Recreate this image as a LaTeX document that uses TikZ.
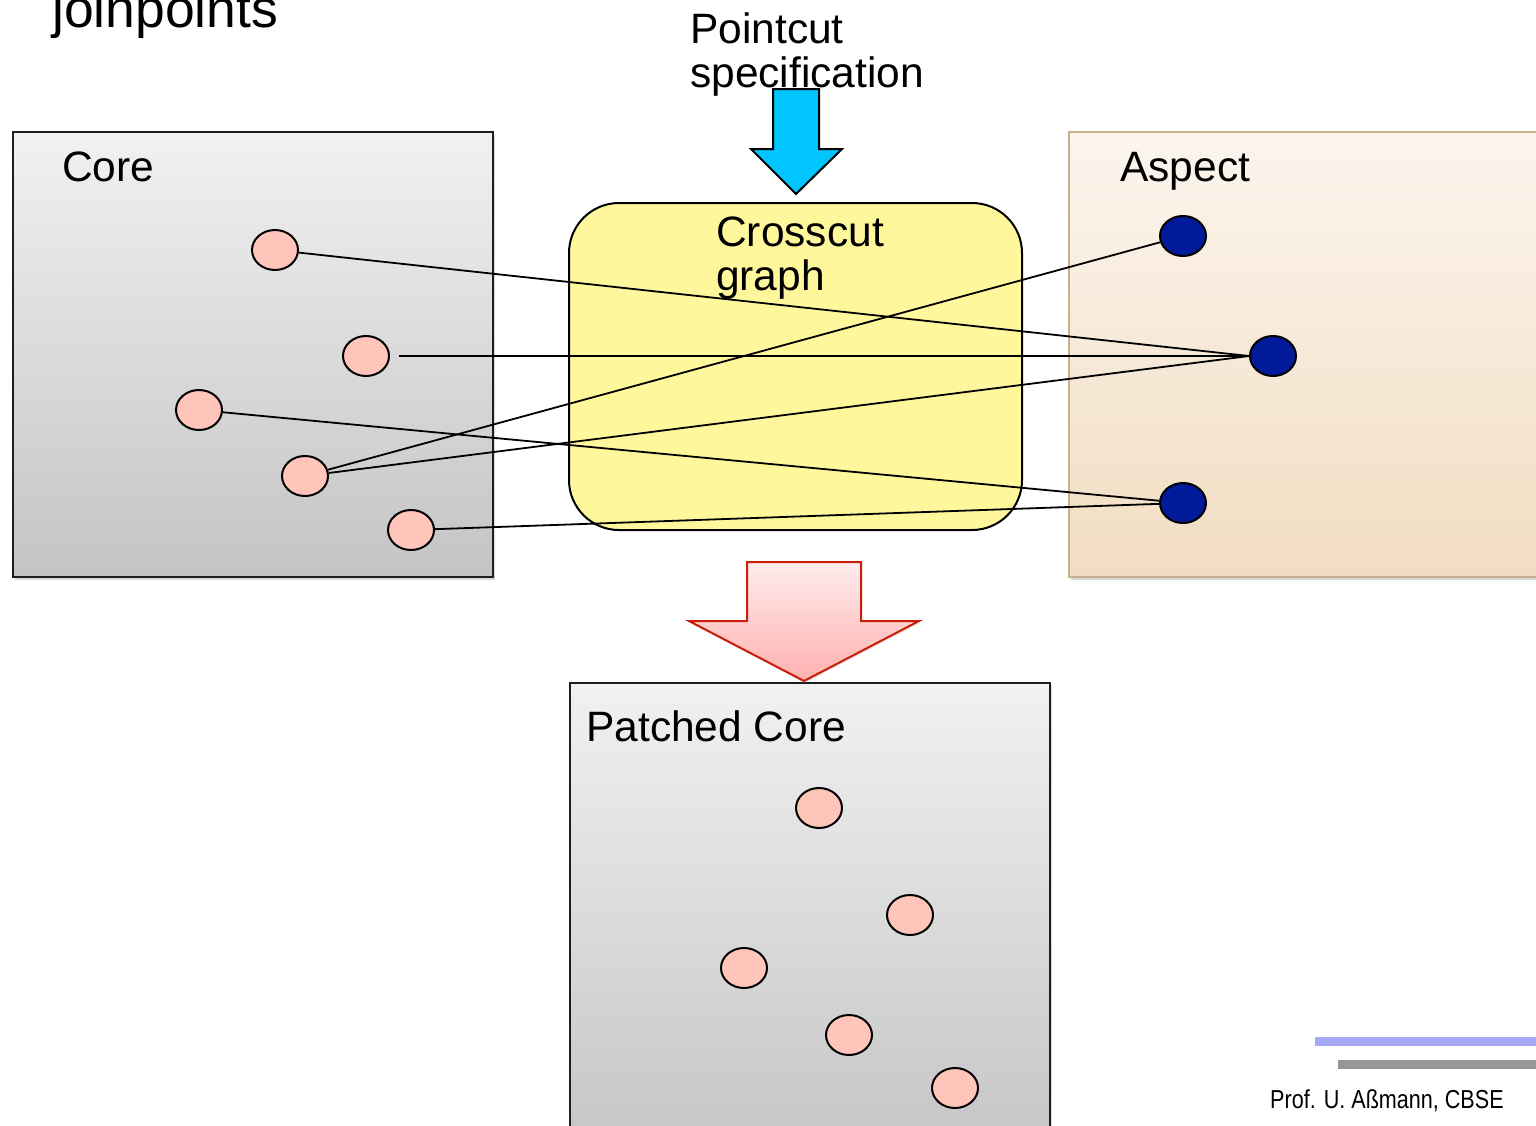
\documentclass[tikz,border=0pt]{standalone}
\usepackage{fontspec}
\setmainfont{Liberation Sans}
\newfontfamily\narrowfont[FakeStretch=0.83]{Liberation Sans}
\usetikzlibrary{shapes.geometric,shadows}

\definecolor{corehi}{RGB}{241,241,241}
\definecolor{corelo}{RGB}{196,196,196}
\definecolor{coreline}{RGB}{30,30,30}
\definecolor{asphi}{RGB}{252,245,238}
\definecolor{asplo}{RGB}{241,221,193}
\definecolor{aspline}{RGB}{200,176,140}
\definecolor{graphyellow}{RGB}{255,247,156}
\definecolor{pcblue}{RGB}{0,197,255}
\definecolor{weavered}{RGB}{200,30,10}
\definecolor{weavehi}{RGB}{255,236,236}
\definecolor{weavelo}{RGB}{255,176,176}
\definecolor{joinpink}{RGB}{255,196,186}
\definecolor{advblue}{RGB}{0,26,153}
\definecolor{barblue}{RGB}{168,168,248}
\definecolor{bargray}{RGB}{150,150,150}

\tikzset{
  box/.style={line width=2pt, drop shadow={shadow xshift=2pt,shadow yshift=-3pt,opacity=0.3}},
  joinpt/.style={ellipse, draw, line width=2pt, fill=joinpink, minimum width=46pt, minimum height=40pt, inner sep=0pt},
  advice/.style={joinpt, fill=advblue},
  wire/.style={line width=1.8pt},
  lbl/.style={anchor=base west, inner sep=0pt, font=\fontsize{42.5}{44}\selectfont},
  lbltwo/.style={anchor=north west, inner sep=0pt, align=left, font=\fontsize{42.5}{44}\selectfont}
}

\begin{document}
\begin{tikzpicture}[x=1pt,y=-1pt]
  \clip (0,0) rectangle (1536,1125);

  % containers
  \path[box, draw=coreline, top color=corehi, bottom color=corelo] (13,132) rectangle (493,577);
  \path[box, draw=aspline, top color=asphi, bottom color=asplo] (1069,132) rectangle (1580,577);
  \path[draw, line width=2pt, fill=graphyellow, rounded corners=50pt] (569,203) rectangle (1022,530);
  \path[box, draw=coreline, top color=corehi, bottom color=corelo] (570,683) rectangle (1050,1160);

  % arrows
  \draw[line width=2pt, fill=pcblue] (773,89) -- (819,89) -- (819,149) -- (842,149)
    -- (796,194) -- (751,149) -- (773,149) -- cycle;
  \path[draw=weavered, line width=2pt, top color=weavehi, bottom color=weavelo,
    drop shadow={shadow xshift=1pt,shadow yshift=-2pt,opacity=0.2}]
    (747,562) -- (861,562) -- (861,621) -- (919,621) -- (804,681) -- (689,621) -- (747,621) -- cycle;

  % labels
  \node[anchor=base west, inner sep=0pt, font=\fontsize{53.5}{60}\selectfont] (joinpoints) at (52,27) {joinpoints};
  \node[lbltwo] (pointcut) at (690,13) {Pointcut\\specification};
  \node[lbl] (corelbl) at (62,181) {Core};
  \node[lbl] (aspectlbl) at (1120,181) {Aspect};
  \node[lbltwo] (crosscut) at (716,217) {Crosscut\\graph};
  \node[lbl] (patchedlbl) at (586,741) {Patched Core};

  % joinpoints of the core
  \node[joinpt] (c1) at (275,250) {};
  \node[joinpt] (c2) at (366,356) {};
  \node[joinpt] (c3) at (199,410) {};
  \node[joinpt] (c4) at (305,476) {};
  \node[joinpt] (c5) at (411,530) {};

  % advice of the aspect
  \node[advice] (a1) at (1183,236) {};
  \node[advice] (a2) at (1273,356) {};
  \node[advice] (a3) at (1183,503) {};

  % crosscut relation
  \draw[wire] (c1) -- (a2.west);
  \draw[wire, shorten <=9pt] (c2) -- (a2.west);
  \draw[wire] (c3) -- (a3);
  \draw[wire] (c4) -- (a1);
  \draw[wire] (c4) -- (a2.west);
  \draw[wire] (c5) -- (a3);

  % joinpoints of the patched core
  \node[joinpt] (p1) at (819,808) {};
  \node[joinpt] (p2) at (910,915) {};
  \node[joinpt] (p3) at (744,968) {};
  \node[joinpt] (p4) at (849,1035) {};
  \node[joinpt] (p5) at (955,1088) {};

  % footer
  \fill[barblue] (1315,1037) rectangle (1540,1046);
  \fill[bargray] (1338,1060) rectangle (1540,1069);
  \node[anchor=base west, inner sep=0pt, font=\narrowfont\fontsize{26}{30}\selectfont] (credit) at (1270,1108) {Prof. U. Aßmann, CBSE};
\end{tikzpicture}
\end{document}
